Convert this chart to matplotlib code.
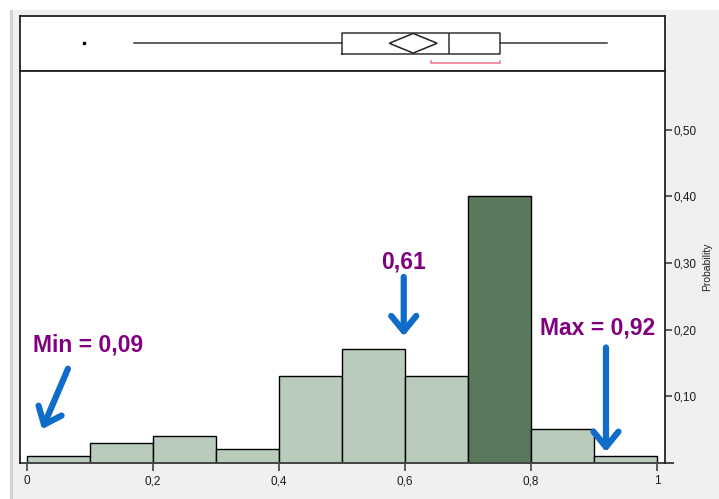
import numpy as np
import matplotlib.pyplot as plt
from matplotlib.patches import Polygon

# histogram: bins of width 0.1 on [0, 1]
bin_edges = [0.0, 0.1, 0.2, 0.3, 0.4, 0.5, 0.6, 0.7, 0.8, 0.9, 1.0]
probabilities = [0.01, 0.03, 0.04, 0.02, 0.13, 0.17, 0.13, 0.40, 0.05, 0.01]
modal_bin = 7

# outlier box plot summary
q1, median, q3 = 0.50, 0.67, 0.75
whisker_lo, whisker_hi = 0.17, 0.92
outliers = [0.09]
mean_value = 0.613
mean_ci = (0.575, 0.651)
shortest_half = (0.641, 0.751)

x_ticks = [0, 0.2, 0.4, 0.6, 0.8, 1.0]
x_tick_labels = ['0', '0,2', '0,4', '0,6', '0,8', '1']
y_ticks = [0.10, 0.20, 0.30, 0.40, 0.50]
y_tick_labels = ['0,10', '0,20', '0,30', '0,40', '0,50']

light_green = '#b9cbbb'
dark_green = '#5a785b'
purple = '#800080'
blue = '#0f6cc8'

W, H = 719, 499
fig = plt.figure(figsize=(W / 100, H / 100), dpi=100, facecolor='#f0f0f0')
plt.rcParams['font.family'] = ['Liberation Sans', 'DejaVu Sans']

# white strip on top and window edge on the left
fig.add_artist(plt.Rectangle((0, 1 - 10 / H), 1, 10 / H, transform=fig.transFigure,
                             facecolor='white', edgecolor='none'))
fig.add_artist(plt.Rectangle((0, 0), 10 / W, 1 - 10 / H, transform=fig.transFigure,
                             facecolor='white', edgecolor='none'))
fig.add_artist(plt.Rectangle((10 / W, 0), 3 / W, 1 - 10 / H, transform=fig.transFigure,
                             facecolor='#d2d2d2', edgecolor='none'))

left, right = 20 / W, 665 / W
top_box, sep, bottom = 1 - 16 / H, 1 - 70.5 / H, 1 - 462.5 / H
xlim = ((20 - 27) / 630, (665 - 27) / 630)

ax_box = fig.add_axes([left, sep, right - left, top_box - sep])
ax = fig.add_axes([left, bottom, right - left, sep - bottom])

# --- box plot strip ---
ax_box.set_xlim(xlim)
ax_box.set_ylim(0, 1)
ax_box.set_xticks([])
ax_box.set_yticks([])
for s in ax_box.spines.values():
    s.set_linewidth(1.3)
    s.set_color('#222222')

stats = [dict(med=median, q1=q1, q3=q3, whislo=whisker_lo, whishi=whisker_hi,
              fliers=outliers)]
ax_box.bxp(stats, positions=[0.5], widths=0.39, orientation='horizontal',
           showcaps=False, manage_ticks=False,
           boxprops=dict(color='#333333', linewidth=1.1),
           whiskerprops=dict(color='#333333', linewidth=1.1),
           medianprops=dict(color='#333333', linewidth=1.1),
           flierprops=dict(marker='s', markersize=2, markerfacecolor='black',
                           markeredgecolor='black'))
ax_box.add_patch(Polygon([(mean_ci[0], 0.5), (mean_value, 0.68),
                          (mean_ci[1], 0.5), (mean_value, 0.32)],
                         closed=True, fill=False, edgecolor='#222222', linewidth=1.1))
ax_box.plot([shortest_half[0], shortest_half[0], shortest_half[1], shortest_half[1]],
            [0.18, 0.135, 0.135, 0.18], color='#ee7b92', linewidth=1.2)

# --- histogram ---
widths = np.diff(bin_edges)
colors = [dark_green if i == modal_bin else light_green for i in range(len(probabilities))]
ax.bar(bin_edges[:-1], probabilities, width=widths, align='edge', color=colors,
       edgecolor='black', linewidth=1.0)

ax.set_xlim(xlim)
ax.set_ylim(0, (462.5 - 70.5) / 665)
ax.set_facecolor('white')
for s in ['left', 'top', 'right']:
    ax.spines[s].set_linewidth(1.3)
    ax.spines[s].set_color('#222222')
ax.spines['bottom'].set_visible(False)
ax.plot([0, 1.012], [0, 0], transform=ax.transAxes, clip_on=False,
        color='#444444', linewidth=1.4)

ax.set_xticks(x_ticks)
ax.set_xticklabels(x_tick_labels)
ax.yaxis.tick_right()
ax.set_yticks(y_ticks)
ax.set_yticklabels(y_tick_labels)
ax.tick_params(axis='x', direction='out', length=6, width=1.1, color='#333333',
               labelsize=8.5, labelcolor='#1a1a1a', pad=3)
ax.tick_params(axis='y', direction='out', length=5, width=1.1, color='#333333',
               labelsize=8.5, labelcolor='#1a1a1a', pad=1)
ax.yaxis.set_label_position('right')
ax.set_ylabel('Probability', fontsize=7.5, color='#222222', labelpad=4)

arrow = dict(arrowstyle='->,head_length=0.55,head_width=0.45', color=blue,
             linewidth=4.5, mutation_scale=20, shrinkA=0, shrinkB=0)
label_kw = dict(color=purple, fontsize=16.5, fontweight='bold', ha='center', va='center')

ax.text(0.097, 0.177, 'Min = 0,09', **label_kw)
ax.annotate('', xy=(0.024, 0.05), xytext=(0.065, 0.141), arrowprops=arrow)

ax.text(0.597, 0.301, '0,61', **label_kw)
ax.annotate('', xy=(0.598, 0.19), xytext=(0.598, 0.279), arrowprops=arrow)

ax.text(0.905, 0.203, 'Max = 0,92', **label_kw)
ax.annotate('', xy=(0.919, 0.016), xytext=(0.919, 0.173), arrowprops=arrow)

fig.savefig('out.png', dpi=100, facecolor=fig.get_facecolor())
